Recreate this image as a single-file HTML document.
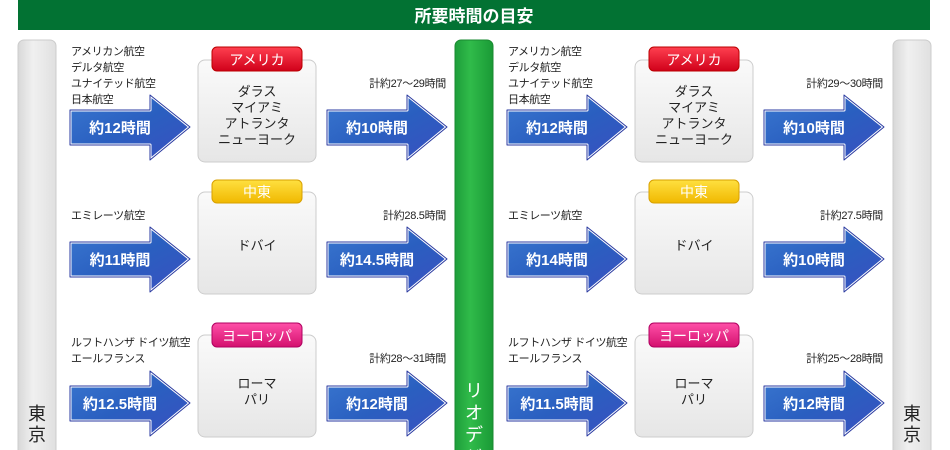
<!DOCTYPE html>
<html><head><meta charset="utf-8"><style>
html,body{margin:0;padding:0;background:#fff;}
svg{display:block;font-family:"Liberation Sans","Noto Sans CJK JP",sans-serif;}
</style></head><body>
<svg width="950" height="450" viewBox="0 0 950 450" xmlns="http://www.w3.org/2000/svg">
<defs>
<linearGradient id="arr" x1="0" y1="0" x2="1" y2="1"><stop offset="0" stop-color="#3a78d0"/><stop offset="0.5" stop-color="#2a5fc0"/><stop offset="1" stop-color="#3a4fc0"/></linearGradient>
<linearGradient id="box" x1="0" y1="0" x2="0" y2="1"><stop offset="0" stop-color="#fafafa"/><stop offset="1" stop-color="#e6e6e6"/></linearGradient>
<linearGradient id="gray" x1="0" y1="0" x2="1" y2="0"><stop offset="0" stop-color="#d8d8d8"/><stop offset="0.4" stop-color="#f0f0f0"/><stop offset="1" stop-color="#e0e0e0"/></linearGradient>
<linearGradient id="green" x1="0" y1="0" x2="1" y2="0"><stop offset="0" stop-color="#1e9e3a"/><stop offset="0.4" stop-color="#30bb4a"/><stop offset="1" stop-color="#1a9a36"/></linearGradient>
<linearGradient id="red" x1="0" y1="0" x2="0" y2="1"><stop offset="0" stop-color="#ff4050"/><stop offset="1" stop-color="#d0001a"/></linearGradient>
<linearGradient id="yel" x1="0" y1="0" x2="0" y2="1"><stop offset="0" stop-color="#ffe040"/><stop offset="1" stop-color="#f0b800"/></linearGradient>
<linearGradient id="pink" x1="0" y1="0" x2="0" y2="1"><stop offset="0" stop-color="#ff50a8"/><stop offset="1" stop-color="#d4106e"/></linearGradient>
<g id="a"><path d="M0,-17 H80 V-32 L120,0 L80,33 V18 H0 Z" fill="url(#arr)" stroke="#fff" stroke-width="3" stroke-linejoin="round"/><path d="M0,-17 H80 V-32 L120,0 L80,33 V18 H0 Z" fill="none" stroke="#2a3aa0" stroke-width="1" stroke-linejoin="round"/></g>
<g id="half">
<g font-size="11" fill="#222" letter-spacing="-0.4">
<text x="71" y="55">アメリカン航空</text><text x="71" y="71">デルタ航空</text><text x="71" y="87">ユナイテッド航空</text><text x="71" y="103">日本航空</text>
<text x="71" y="219">エミレーツ航空</text>
<text x="71" y="346">ルフトハンザ ドイツ航空</text><text x="71" y="362">エールフランス</text>
</g>
<rect x="198" y="60" width="118" height="102" rx="7" fill="url(#box)" stroke="#ccc"/>
<rect x="198" y="192" width="118" height="102" rx="7" fill="url(#box)" stroke="#ccc"/>
<rect x="198" y="335" width="118" height="102" rx="7" fill="url(#box)" stroke="#ccc"/>
<rect x="212" y="47" width="90" height="24" rx="5" fill="url(#red)" stroke="#b00"/>
<rect x="212" y="180" width="90" height="23" rx="5" fill="url(#yel)" stroke="#d8a000"/>
<rect x="212" y="323" width="90" height="24" rx="5" fill="url(#pink)" stroke="#b00060"/>
<g font-size="14" fill="#fff" text-anchor="middle"><text x="257" y="65">アメリカ</text><text x="257" y="197">中東</text><text x="257" y="341">ヨーロッパ</text></g>
<g font-size="13" fill="#222" text-anchor="middle">
<text x="257" y="96">ダラス</text><text x="257" y="112">マイアミ</text><text x="257" y="128">アトランタ</text><text x="257" y="144">ニューヨーク</text>
<text x="257" y="250">ドバイ</text>
<text x="257" y="388">ローマ</text><text x="257" y="404">パリ</text>
</g>
<use href="#a" x="70" y="127"/><use href="#a" x="70" y="259"/><use href="#a" x="70" y="403"/>
<use href="#a" x="327" y="127"/><use href="#a" x="327" y="259"/><use href="#a" x="327" y="403"/>
</g>
</defs>
<rect x="18" y="0" width="912" height="30" fill="#027233"/>
<text x="474" y="22" fill="#fff" font-size="17" font-weight="600" text-anchor="middle">所要時間の目安</text>
<rect x="18" y="40" width="38" height="420" rx="6" fill="url(#gray)" stroke="#ccc"/>
<rect x="893" y="40" width="38" height="420" rx="6" fill="url(#gray)" stroke="#ccc"/>
<rect x="455" y="40" width="38" height="420" rx="6" fill="url(#green)" stroke="#1a8a30"/>
<g font-size="18" fill="#222" text-anchor="middle"><text x="37" y="420">東</text><text x="37" y="441">京</text><text x="912" y="420">東</text><text x="912" y="441">京</text></g>
<g font-size="18" fill="#fff" text-anchor="middle"><text x="474" y="397">リ</text><text x="474" y="419">オ</text><text x="474" y="441">デ</text><text x="474" y="463">ジ</text></g>

<use href="#half"/>
<use href="#half" x="437"/>

<g font-size="11" fill="#222" text-anchor="end" letter-spacing="-0.3">
<text x="446" y="87">計約27〜29時間</text><text x="446" y="219">計約28.5時間</text><text x="446" y="362">計約28〜31時間</text>
<text x="883" y="87">計約29〜30時間</text><text x="883" y="219">計約27.5時間</text><text x="883" y="362">計約25〜28時間</text>
</g>
<g font-size="15" font-weight="bold" fill="#fff" text-anchor="middle">
<text x="120" y="133">約12時間</text><text x="120" y="265">約11時間</text><text x="120" y="409">約12.5時間</text>
<text x="377" y="133">約10時間</text><text x="377" y="265">約14.5時間</text><text x="377" y="409">約12時間</text>
<text x="557" y="133">約12時間</text><text x="557" y="265">約14時間</text><text x="557" y="409">約11.5時間</text>
<text x="814" y="133">約10時間</text><text x="814" y="265">約10時間</text><text x="814" y="409">約12時間</text>
</g>
</svg>
</body></html>
